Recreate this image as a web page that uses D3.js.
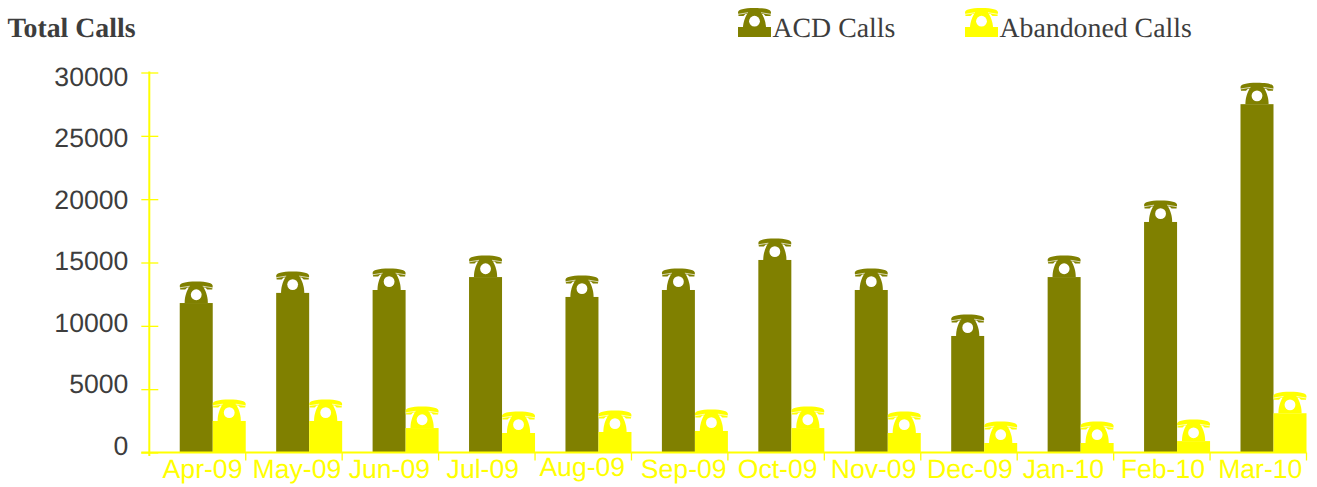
<!DOCTYPE html>
<html>
<head>
<meta charset="utf-8">
<title>Total Calls</title>
<script src="https://cdnjs.cloudflare.com/ajax/libs/d3/7.8.5/d3.min.js"></script>
<style>
  * { margin: 0; padding: 0; }
  body { background: #fff; overflow: hidden; }
  svg { display: block; text-rendering: geometricPrecision; }
</style>
</head>
<body>
<div id="show"></div>
<script>
var months = ['Apr-09','May-09','Jun-09','Jul-09','Aug-09','Sep-09','Oct-09','Nov-09','Dec-09','Jan-10','Feb-10','Mar-10'];
var seriesNames = ['ACD Calls','Abandoned Calls'];
var acdCalls = [11800,12600,12830,13850,12280,12830,15200,12830,9200,13850,18200,27500];
var abandonedCalls = [2490,2490,1930,1540,1620,1700,1930,1540,750,750,900,3100];
var yTicks = [0,5000,10000,15000,20000,25000,30000];

var colors = {'ACD Calls':'#808000','Abandoned Calls':'#ffff00'};
var values = {'ACD Calls':acdCalls,'Abandoned Calls':abandonedCalls};

var width = 1317, height = 487;
var left = 149.3, right = 1306.5, top_ = 72.5, bottom = 452.5;
var barW = 33;
var textColor = '#3d3d3d';

var svg = d3.select('#show').append('svg').attr('width',width).attr('height',height);

var x0 = d3.scaleBand().domain(months).range([left,right]);
var x1 = d3.scaleBand().domain(seriesNames).range([x0.bandwidth()-2*barW,x0.bandwidth()]);
var y = d3.scaleLinear().domain([0,30000]).range([bottom,top_]);
// the y labels sit on a slightly tighter spacing than the tick marks
var yLabel = d3.scaleLinear().domain([0,30000]).range([454,85]);

// telephone drawn above a bar, origin is bottom middle of the phone
function phone(g,color){
  g.append('path').attr('fill',color)
    .attr('d','M-16.5,-17C-16.5,-20 -11,-21.5 0,-21.5C11,-21.5 16.5,-20 16.5,-17L16,-13.5L11,-13.5L9,-15.5L-9,-15.5L-11,-13.5L-16,-13.5Z');
  g.append('path').attr('fill',color)
    .attr('d','M-11.6,0C-11.6,-5 -10.5,-11 -6.5,-17L6.5,-17C10.5,-11 11.6,-5 11.6,0Z');
  g.append('circle').attr('cy',-8.3).attr('r',5.4).attr('fill','#fff');
  g.append('path').attr('stroke','#fff').attr('stroke-width',0.7).attr('fill','none')
    .attr('d','M-16.5,-15.2L-6.5,-16.8M16.5,-15.2L6.5,-16.8');
}

// bars
seriesNames.forEach(function(name){
  var g = svg.append('g').attr('class','series');
  var data = months.map(function(m,i){ return {month:m,value:values[name][i]}; });
  g.selectAll('rect').data(data).enter().append('rect')
    .attr('x',function(d){ return x0(d.month)+x1(name); })
    .attr('y',function(d){ return y(d.value); })
    .attr('width',barW)
    .attr('height',function(d){ return y(0)-y(d.value); })
    .attr('fill',colors[name]);
  g.selectAll('g.phone').data(data).enter().append('g').attr('class','phone')
    .attr('transform',function(d){ return 'translate('+(x0(d.month)+x1(name)+barW/2)+','+y(d.value)+')'; })
    .each(function(){ phone(d3.select(this),colors[name]); });
});

// y axis
var yAxis = svg.append('g').attr('transform','translate('+left+',0)')
  .call(d3.axisLeft(y).tickValues(yTicks).tickFormat(d3.format('d')).tickSize(0));
yAxis.select('.domain').remove();
yAxis.selectAll('.tick line').attr('x1',-8).attr('x2',9).attr('stroke','#ffff00').attr('stroke-width',1.3);
yAxis.selectAll('text')
  .attr('x',-21).attr('dy',0)
  .attr('y',function(d){ return yLabel(d)-y(d); })
  .attr('font-family','"Liberation Sans"').attr('font-size',26.6).attr('fill',textColor);
svg.append('line').attr('x1',left).attr('x2',left).attr('y1',top_-1).attr('y2',bottom+3.5).attr('stroke','#ffff00').attr('stroke-width',2);

// x axis, the labels do not sit quite in the middle of their band
var labelDx = [5,3,-1,-4,-1,4,1.5,1,1,-2,1,2];
var labelDy = [0,0,0,0,-2,0,0,0,0,0,0,0];
var xAxis = svg.append('g').attr('transform','translate(0,'+bottom+')')
  .call(d3.axisBottom(x0).tickSize(0));
xAxis.select('.domain').remove();
xAxis.selectAll('text')
  .attr('font-family','"Liberation Sans"').attr('font-size',26.6).attr('fill','#ffff00')
  .attr('dy',0)
  .attr('x',function(d,i){ return labelDx[i]; })
  .attr('y',function(d,i){ return 25.5+labelDy[i]; });
svg.append('line').attr('x1',left-8).attr('x2',right).attr('y1',bottom).attr('y2',bottom).attr('stroke','#ffff00').attr('stroke-width',2);
svg.append('g').selectAll('line').data(months).enter().append('line')
  .attr('x1',function(d){ return x0(d)+x0.bandwidth(); })
  .attr('x2',function(d){ return x0(d)+x0.bandwidth(); })
  .attr('y1',bottom).attr('y2',bottom+8).attr('stroke','#ffff00').attr('stroke-width',1.3);

// title
svg.append('text').attr('x',7.5).attr('y',37).text('Total Calls')
  .attr('font-family','"Liberation Serif"').attr('font-weight','bold').attr('font-size',27.8).attr('fill',textColor);

// legend
var legendX = [738,965];
seriesNames.forEach(function(name,i){
  var g = svg.append('g').attr('transform','translate('+legendX[i]+',0)');
  g.append('rect').attr('x',0).attr('y',27).attr('width',barW).attr('height',10).attr('fill',colors[name]);
  var p = g.append('g').attr('transform','translate('+barW/2+',29.5)');
  phone(p,colors[name]);
  g.append('text').attr('x',barW+1.5).attr('y',37).text(name)
    .attr('font-family','"Liberation Serif"').attr('font-size',27.8).attr('fill',textColor);
});
</script>
</body>
</html>
